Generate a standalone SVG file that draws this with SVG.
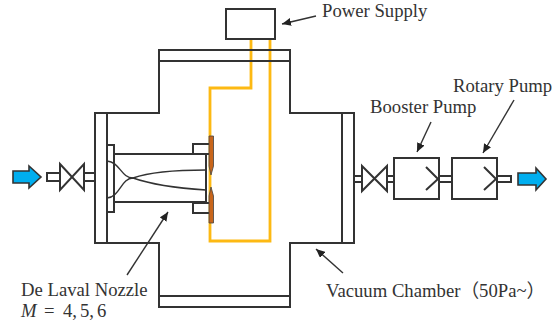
<svg xmlns="http://www.w3.org/2000/svg" width="552" height="326" viewBox="0 0 552 326">
<style>
.l{fill:none;stroke:#333;stroke-width:2}
.t{fill:none;stroke:#333;stroke-width:1.4}
.y{fill:none;stroke:#fdb913;stroke-width:2.8}
.o{fill:#c8651b;stroke:#444;stroke-width:.8}
.a{fill:#00aeef;stroke:#333;stroke-width:1.6}
.s{fill:none;stroke:#333;stroke-width:1.4;marker-end:url(#h)}
text{font-family:"Liberation Serif","Noto Sans CJK JP",serif;font-size:18.7px;fill:#333}
</style>
<defs>
<marker id="h" markerUnits="userSpaceOnUse" markerWidth="10" markerHeight="8" refX="9" refY="4" orient="auto"><path d="M0 0L9 4L0 8Z" fill="#222"/></marker>
</defs>
<g id="connectors">
<path class="y" d="M251 39V88H210V241H270V39"/>
<path class="s" d="M316 16L282 24"/>
<path class="s" d="M431 122L417 152"/>
<path class="s" d="M514 100L483 153"/>
<path class="s" d="M343 273L316 249"/>
<path class="s" d="M127 275L168 212"/>
</g>
<g id="vacuum-chamber">
<path class="l" d="M159 61V113H95V243H159V296H290V243H354V113H290V61"/>
<path class="l" d="M107 113V243M342 113V243"/>
<rect class="l" x="159" y="50" width="131" height="11"/>
<rect class="l" x="159" y="296" width="131" height="11"/>
</g>
<g id="power-supply"><rect class="l" x="226" y="9" width="49" height="30"/></g>
<g id="nozzle">
<rect class="l" x="107" y="145" width="7" height="67"/>
<path class="l" d="M114 154H206V202H114"/>
<rect class="l" x="193" y="144" width="19" height="10"/>
<rect class="l" x="193" y="203" width="19" height="10"/>
<path class="o" d="M209 136H213.500V166L211 175L209 166Z"/>
<path class="o" d="M209 196L211 187L213.500 196V223H209Z"/>
<path class="t" d="M107 161C120 162 121 178 133 178C150 172 175 170 206 170"/>
<path class="t" d="M107 198C120 197 121 178 133 178C150 184 175 188 206 190"/>
</g>
<g id="inlet">
<path class="a" d="M13 171H29V166L41 177L29 188V183H13Z"/>
<rect class="l" x="47" y="173" width="13" height="8"/>
<rect class="l" x="84" y="173" width="11" height="8"/>
<path class="l" d="M60 164L84 190V164L60 190Z"/>
</g>
<g id="outlet-valve">
<path class="l" d="M354 176H362M354 182H362M387 176H394M387 182H394"/>
<path class="l" d="M362 166L387 191V166L362 191Z"/>
</g>
<g id="booster-pump">
<rect class="l" x="394" y="158" width="45" height="41"/>
<path class="l" d="M426 167L438 179L426 190"/>
</g>
<g id="rotary-pump">
<path class="l" d="M439 176H452M439 182H452"/>
<rect class="l" x="452" y="158" width="45" height="41"/>
<path class="l" d="M484 167L496 179L484 190"/>
<path class="l" d="M497 176H511V182H497"/>
</g>
<g id="outlet-arrow"><path class="a" d="M518 173H536V168L546 179L536 190V185H518Z"/></g>
<g id="labels">
<text x="322" y="17">Power Supply</text>
<text x="453" y="92">Rotary Pump</text>
<text x="370" y="113">Booster Pump</text>
<text x="21" y="296">De Laval Nozzle</text>
<text x="21" y="317"><tspan font-style="italic">M</tspan><tspan x="44">=</tspan><tspan x="63">4,</tspan><tspan x="80">5,</tspan><tspan x="97">6</tspan></text>
<text x="326" y="297">Vacuum Chamber（50Pa~）</text>
</g>
</svg>
